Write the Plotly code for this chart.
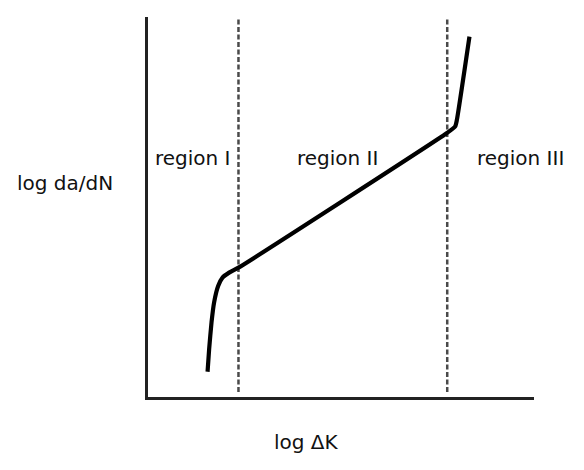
import plotly.graph_objects as go

# Schematic fatigue crack growth curve (arbitrary log units, 0-10 on both axes)
curve_x = [1.543, 1.584, 1.646, 1.713, 1.817, 1.930, 2.101, 2.344, 7.744, 7.959, 8.003, 8.328]
curve_y = [0.664, 1.260, 1.969, 2.493, 2.921, 3.142, 3.273, 3.404, 6.948, 7.121, 7.297, 9.483]

boundaries_x = [2.344, 7.752]
boundary_y = [0.131, 10.0]

region_labels = ["region I", "region II", "region III"]
region_label_x = [1.176, 4.897, 9.638]
region_label_y = 6.30

x_title = "log ΔK"
y_title = "log da/dN"

FONT = "DejaVu Sans"

fig = go.Figure()

for bx in boundaries_x:
    fig.add_trace(go.Scatter(
        x=[bx, bx], y=boundary_y, mode="lines",
        line=dict(color="#4a4a4a", width=2.5, dash="5px,2.5px"),
        hoverinfo="skip", showlegend=False))

fig.add_trace(go.Scatter(
    x=curve_x, y=curve_y, mode="lines",
    line=dict(color="#000000", width=4.2, shape="spline", smoothing=0.5),
    showlegend=False))

for lbl, lx in zip(region_labels, region_label_x):
    fig.add_annotation(x=lx, y=region_label_y, xref="x", yref="y", text=lbl,
                       showarrow=False, xanchor="center", yanchor="middle",
                       font=dict(family=FONT, size=20, color="#111111"))

fig.add_annotation(x=-0.215, y=0.562, xref="paper", yref="paper", text=y_title,
                   showarrow=False, xanchor="center", yanchor="middle",
                   font=dict(family=FONT, size=20, color="#111111"))
fig.add_annotation(x=0.411, y=-0.118, xref="paper", yref="paper", text=x_title,
                   showarrow=False, xanchor="center", yanchor="middle",
                   font=dict(family=FONT, size=20, color="#111111"))

axis_common = dict(showline=True, linecolor="#222222", linewidth=2.5,
                   showgrid=False, zeroline=False, showticklabels=False,
                   ticks="", fixedrange=True)

fig.update_layout(
    width=576, height=462,
    margin=dict(l=140, r=50, t=9, b=73),
    paper_bgcolor="white", plot_bgcolor="white",
    xaxis=dict(range=[0, 10], **axis_common),
    yaxis=dict(range=[0, 10], **axis_common),
    showlegend=False,
)

fig.write_html("out.html")
